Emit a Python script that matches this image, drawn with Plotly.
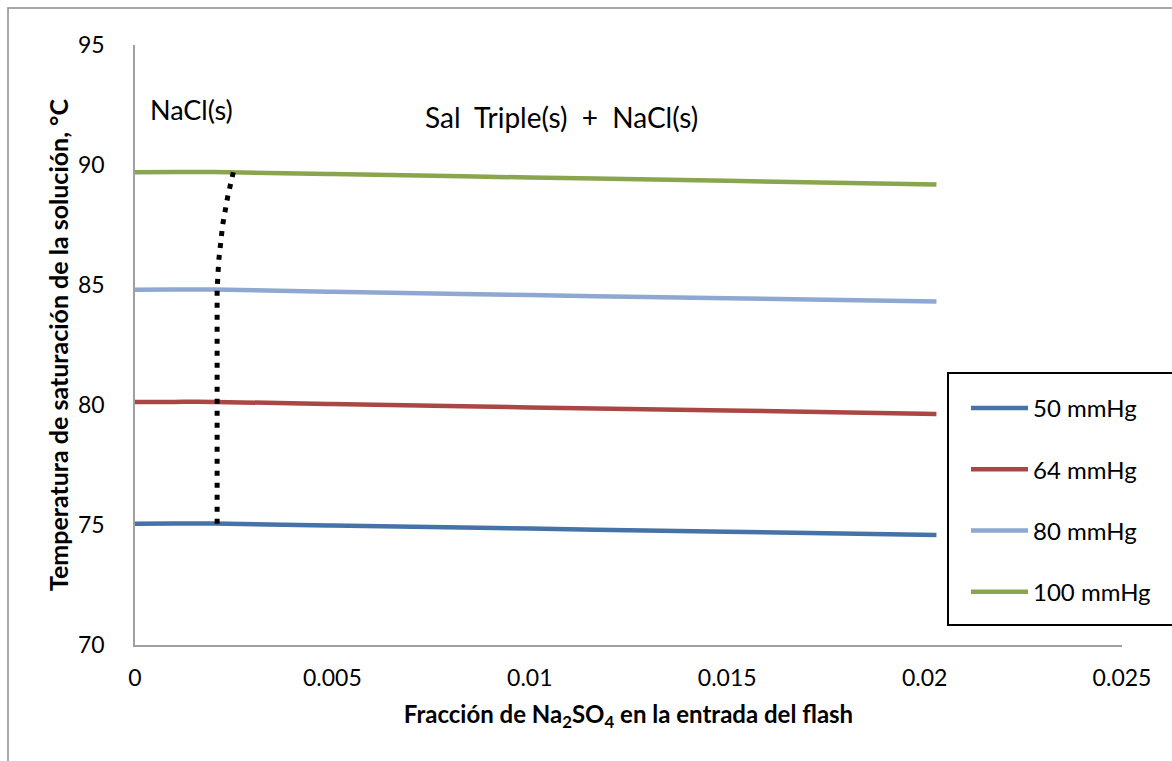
import plotly.graph_objects as go

# Fracción de Na2SO4 en la entrada del flash
x_frac = [0.0, 0.001, 0.002, 0.005, 0.01, 0.015, 0.0203]

# Temperatura de saturación (°C) para cada presión
t_50 = [75.05, 75.06, 75.06, 74.98, 74.85, 74.72, 74.58]
t_64 = [80.12, 80.13, 80.13, 80.04, 79.90, 79.77, 79.63]
t_80 = [84.80, 84.81, 84.81, 84.72, 84.58, 84.45, 84.31]
t_100 = [89.70, 89.71, 89.71, 89.62, 89.48, 89.34, 89.19]

series_names = ["50 mmHg", "64 mmHg", "80 mmHg", "100 mmHg"]
series_values = [t_50, t_64, t_80, t_100]
series_colors = ["#4572A7", "#AA4643", "#8EA8D1", "#89A54E"]

# Frontera entre NaCl(s) y Sal Triple(s) + NaCl(s)
bound_x = [0.00208, 0.00208, 0.00208, 0.00212, 0.00222, 0.00235, 0.00249]
bound_t = [75.05, 80.12, 84.80, 86.0, 87.5, 88.7, 89.70]

x_ticks = [0, 0.005, 0.01, 0.015, 0.02, 0.025]
x_tick_text = ["0", "0.005", "0.01", "0.015", "0.02", "0.025"]
y_ticks = [70, 75, 80, 85, 90, 95]

FONT = "Lato, 'Open Sans', sans-serif"

fig = go.Figure()

for name, vals, col in zip(series_names, series_values, series_colors):
    fig.add_trace(go.Scatter(
        x=x_frac, y=vals, mode="lines", name=name,
        legendgroup=name,
        line=dict(color=col, width=4.5, shape="spline"),
    ))

fig.add_trace(go.Scatter(
    x=bound_x, y=bound_t, mode="lines", showlegend=False,
    line=dict(color="black", width=5, dash="5px,7px"),
))

W, H = 1172, 761
ml, mr, mt, mb = 135, 50, 45, 116
pw, ph = W - ml - mr, H - mt - mb

def px_to_paper_x(px):
    return (px - ml) / pw

def px_to_paper_y(py):
    return (H - mb - py) / ph

fig.update_layout(
    width=W, height=H,
    margin=dict(l=ml, r=mr, t=mt, b=mb),
    paper_bgcolor="white", plot_bgcolor="white",
    font=dict(family=FONT, size=23, color="black"),
    showlegend=True,
    legend=dict(
        x=px_to_paper_x(966), y=px_to_paper_y(386),
        xanchor="left", yanchor="top",
        borderwidth=0, bgcolor="rgba(0,0,0,0)",
        font=dict(family=FONT, size=24),
        traceorder="grouped", tracegroupgap=27,
        itemwidth=57,
    ),
    xaxis=dict(
        range=[0, 0.025], tickvals=x_ticks, ticktext=x_tick_text,
        showgrid=False, zeroline=False,
        showline=True, linecolor="#A0A0A0", linewidth=1.5,
        ticks="", ticklabelstandoff=12,
        tickfont=dict(family=FONT, size=23),
        title=dict(
            text="<b>Fracción de Na<sub>2</sub>SO<sub>4</sub> en la entrada del flash</b>",
            font=dict(family=FONT, size=24), standoff=16,
        ),
    ),
    yaxis=dict(
        range=[70, 95], tickvals=y_ticks,
        showgrid=False, zeroline=False,
        showline=True, linecolor="#A0A0A0", linewidth=1.5,
        ticks="", ticklabelstandoff=24,
        tickfont=dict(family=FONT, size=23),
        title=dict(
            text="<b>Temperatura de saturación de la solución, °C</b>",
            font=dict(family=FONT, size=25), standoff=2,
        ),
    ),
    annotations=[
        dict(x=px_to_paper_x(191), y=px_to_paper_y(110), xref="paper", yref="paper",
             text="NaCl(s)", showarrow=False, xanchor="center", yanchor="middle",
             font=dict(family=FONT, size=27)),
        dict(x=px_to_paper_x(561), y=px_to_paper_y(117), xref="paper", yref="paper",
             text="Sal  Triple(s)  +  NaCl(s)", showarrow=False,
             xanchor="center", yanchor="middle",
             font=dict(family=FONT, size=28)),
    ],
    shapes=[
        # marco exterior del gráfico
        dict(type="rect", xref="paper", yref="paper",
             x0=px_to_paper_x(8), x1=px_to_paper_x(W + 20),
             y0=px_to_paper_y(H + 20), y1=px_to_paper_y(8),
             line=dict(color="#8C8C8C", width=1.5), layer="below"),
        # recuadro de la leyenda
        dict(type="rect", xref="paper", yref="paper",
             x0=px_to_paper_x(948), x1=px_to_paper_x(W + 20),
             y0=px_to_paper_y(625), y1=px_to_paper_y(373),
             line=dict(color="black", width=2), fillcolor="white", layer="below"),
    ],
)

fig.write_html("out.html")
